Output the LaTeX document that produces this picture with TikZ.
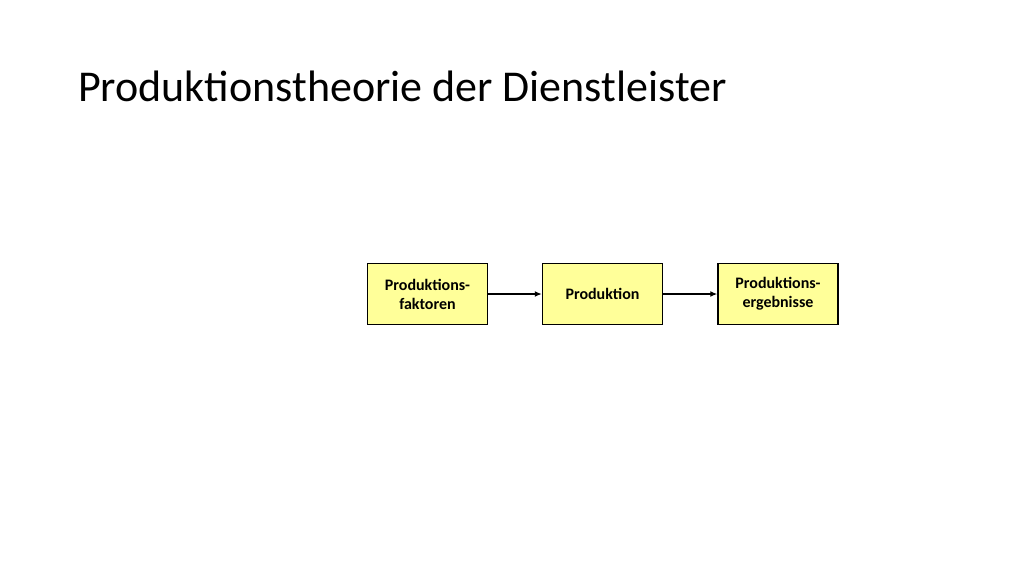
\documentclass[tikz,border=0pt]{standalone}
\usepackage{fontspec}
\setmainfont{Carlito}
\usetikzlibrary{arrows.meta}
\definecolor{boxfill}{HTML}{FFFF99}
\begin{document}
\begin{tikzpicture}[x=1pt,y=-1pt,
  pbox/.style={draw=black,line width=1.5pt,fill=boxfill,minimum width=120pt,minimum height=61pt,inner sep=0pt,align=center,font=\fontsize{16}{19}\selectfont\bfseries},
  conn/.style={line width=1.3pt,-{Latex[length=7pt,width=6pt]}}]
\useasboundingbox (0,0) rectangle (1024,576);
\fill[white] (0,0) rectangle (1024,576);
\node[anchor=base west,inner sep=0pt,font=\fontsize{44}{50}\selectfont] (title) at (78,101) {Produktionstheorie der Dienstleister};
\node[pbox] (a) at (427.5,294) {Produktions-\\faktoren};
\node[pbox] (b) at (602.5,294) {Produktion};
\node[pbox] (c) at (778,294) {Produktions-\\ergebnisse};
\draw[conn] (a) -- (b);
\draw[conn] (b) -- (c);
\end{tikzpicture}
\end{document}
